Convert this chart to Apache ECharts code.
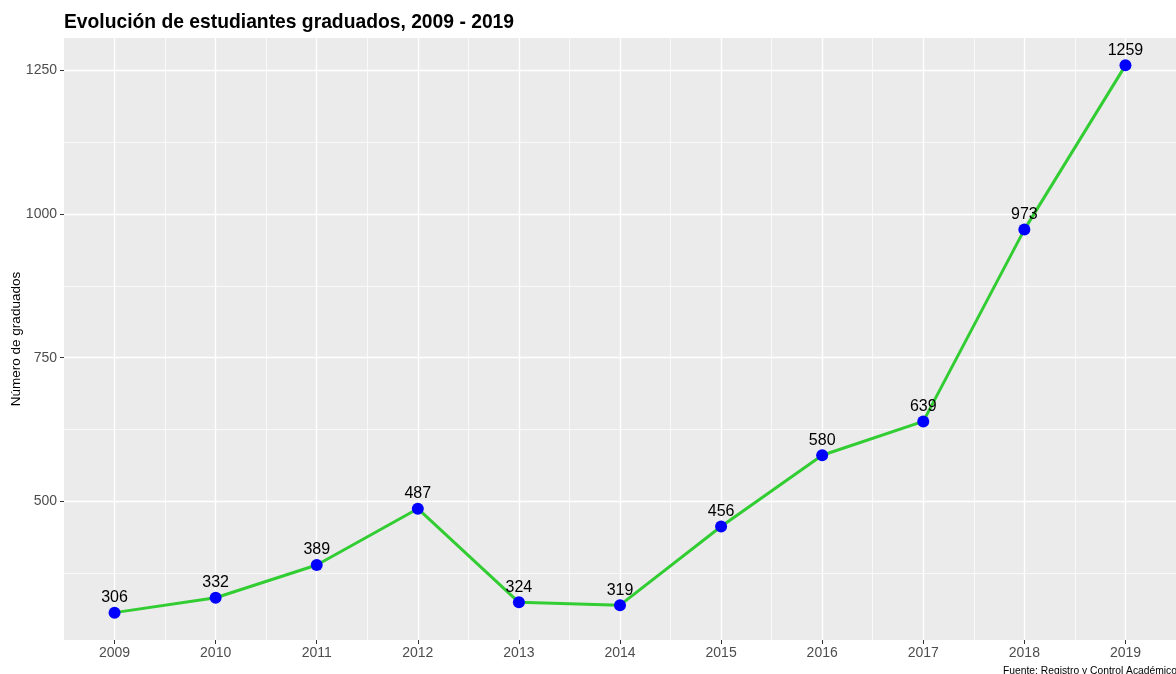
<!DOCTYPE html>
<html>
<head>
<meta charset="utf-8">
<script src="https://cdn.jsdelivr.net/npm/echarts@6/dist/echarts.min.js"></script>
<style>
    html, body {margin: 0; padding: 0; background: #fff;}
    #main {width: 1176px; height: 674px;}
</style>
</head>
<body>
<div id="main"></div>
<script>
    // datos
    const years = [2009, 2010, 2011, 2012, 2013, 2014, 2015, 2016, 2017, 2018, 2019];
    const graduados = [306, 332, 389, 487, 324, 319, 456, 580, 639, 973, 1259];
    const yTicks = [500, 750, 1000, 1250];
    const yMinor = [375, 625, 875, 1125];
    const xMinor = [2009.5, 2010.5, 2011.5, 2012.5, 2013.5, 2014.5, 2015.5, 2016.5, 2017.5, 2018.5];

    const font = 'Liberation Sans, Arial, sans-serif';

    let myChart = echarts.init(document.getElementById('main'));

    // lineas de la cuadricula (estilo ggplot)
    const gridLines = [];
    yMinor.forEach(v => gridLines.push({yAxis: v, lineStyle: {width: 0.7}}));
    xMinor.forEach(v => gridLines.push({xAxis: v, lineStyle: {width: 0.7}}));
    yTicks.forEach(v => gridLines.push({yAxis: v, lineStyle: {width: 1.4}}));
    years.forEach(v => gridLines.push({xAxis: v, lineStyle: {width: 1.4}}));

    myChart.setOption({
        animation: false,
        title: [{
            text: 'Evolución de estudiantes graduados, 2009 - 2019',
            left: 59, top: 8,
            textStyle: {fontFamily: font, fontSize: 19.3, fontWeight: 'bold', color: '#000'}
        }, {
            text: 'Fuente: Registro y Control Académico',
            left: 998, top: 661,
            textStyle: {fontFamily: font, fontSize: 10.3, fontWeight: 'normal', color: '#000'}
        }],
        grid: {
            left: 64, right: 0, top: 38, bottom: 34,
            containLabel: false,
            outerBoundsMode: 'none',
            show: true, backgroundColor: '#EBEBEB', borderWidth: 0
        },
        xAxis: {
            type: 'value',
            min: 2008.5,
            max: 2019.5,
            splitLine: {show: false},
            axisLine: {show: false},
            axisTick: {show: true, customValues: years, length: 4, lineStyle: {color: '#333', width: 1}},
            axisLabel: {customValues: years, margin: 6, fontFamily: font, fontSize: 14, color: '#4D4D4D', formatter: v => String(v)}
        },
        yAxis: {
            type: 'value',
            min: 258.35,
            max: 1306.65,
            name: 'Número de graduados',
            nameLocation: 'middle',
            nameGap: 41,
            nameMoveOverlap: false,
            nameTextStyle: {fontFamily: font, fontSize: 13.5, color: '#000'},
            splitLine: {show: false},
            axisLine: {show: false},
            axisTick: {show: true, customValues: yTicks, length: 4, lineStyle: {color: '#333', width: 1}},
            axisLabel: {customValues: yTicks, margin: 7, fontFamily: font, fontSize: 14, color: '#4D4D4D', formatter: v => String(v)}
        },
        series: [{
            type: 'line',
            data: years.map((y, i) => [y, graduados[i]]),
            symbol: 'circle',
            symbolSize: 12,
            itemStyle: {color: '#0000FF'},
            lineStyle: {color: '#32CD32', width: 3},
            z: 3,
            label: {
                show: true,
                position: 'top',
                distance: 1,
                fontFamily: font,
                fontSize: 16,
                color: '#000',
                formatter: p => p.value[1]
            },
            markLine: {
                silent: true,
                symbol: 'none',
                label: {show: false},
                z: 1,
                lineStyle: {color: '#FFFFFF', type: 'solid'},
                data: gridLines
            }
        }]
    });
</script>
</body>
</html>
